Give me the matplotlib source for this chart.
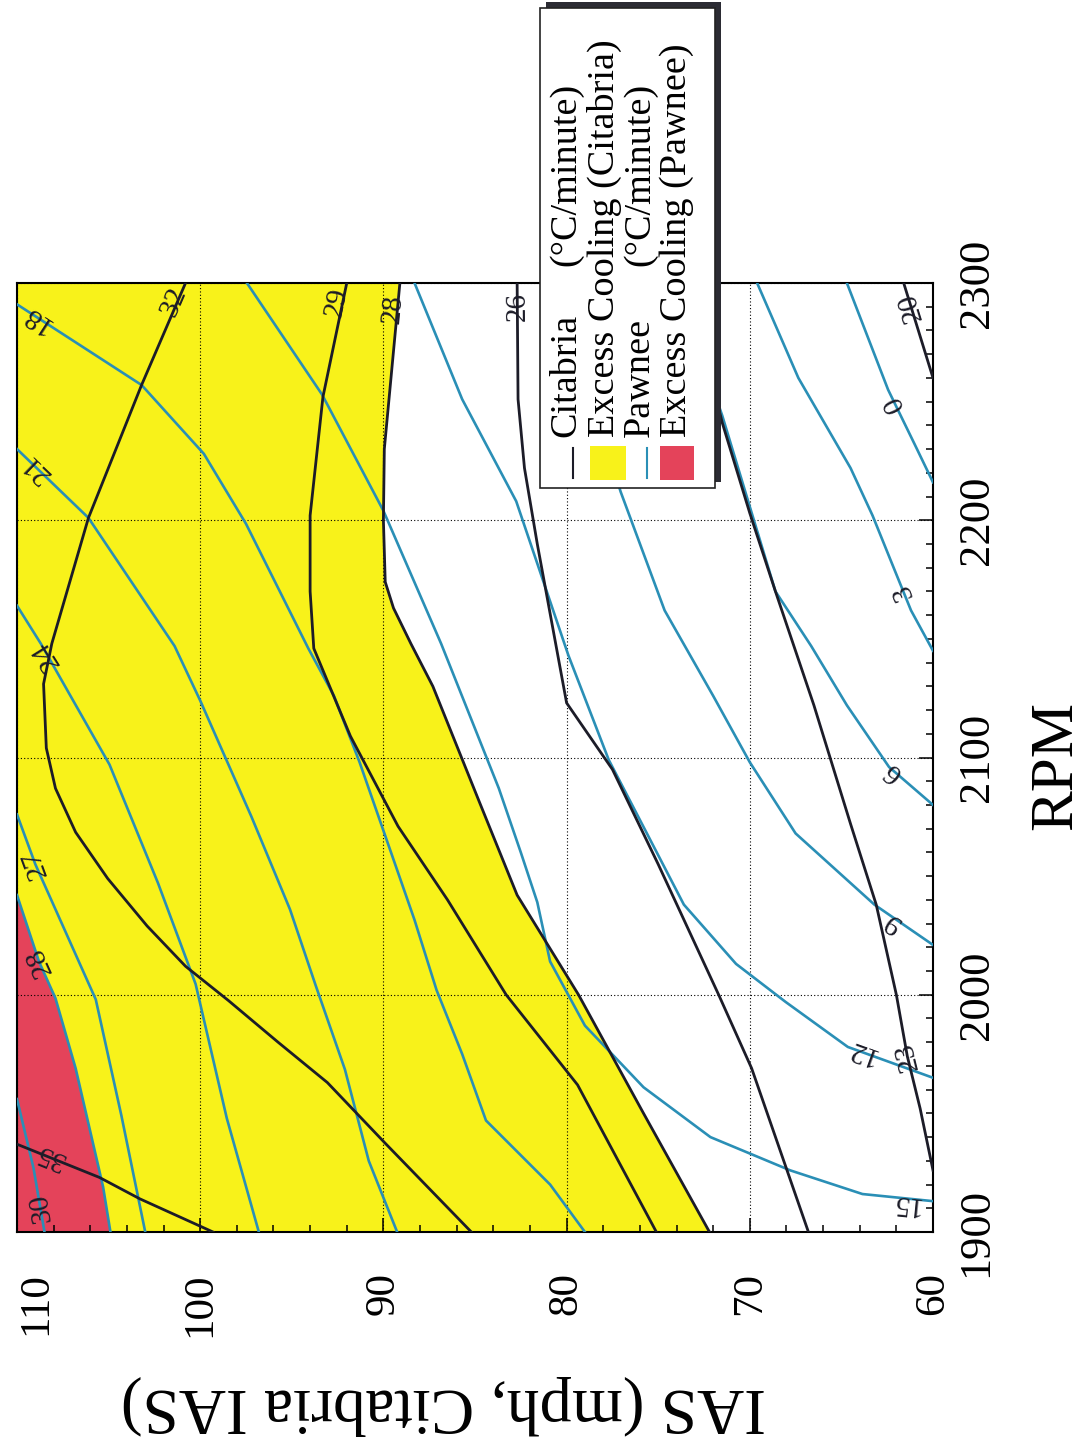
import numpy as np
import matplotlib
matplotlib.use("Agg")
import matplotlib.pyplot as plt
from matplotlib.lines import Line2D
from matplotlib.patches import Rectangle

plt.rcParams['font.family'] = ['Liberation Serif', 'DejaVu Serif']

# contour lines: IAS (mph, Citabria IAS) against RPM
# Citabria cooling rate, deg C / minute
cit20_ias = [61.6, 60.8, 60.0]
cit20_rpm = [2300, 2280, 2260]
cit23_ias = [73.4, 71.5, 70.0, 68.6, 66.5, 64.5, 63.1, 62.0, 61.4, 60.7, 60.0]
cit23_rpm = [2300, 2241, 2203, 2170, 2122, 2072, 2038, 2000, 1974, 1952, 1926]
cit26_ias = [82.7, 82.65, 82.3, 81.6, 80.0, 77.5, 75.0, 71.7, 69.9, 66.8]
cit26_rpm = [2300, 2251, 2222, 2190, 2123, 2095, 2055, 2000, 1969, 1900]
cit28_ias = [89.1, 89.95, 90.0, 89.9, 89.45, 88.5, 87.3, 84.8, 82.7, 79.35, 75.8, 72.2]
cit28_rpm = [2300, 2230, 2200, 2174, 2163, 2148, 2130, 2082, 2042, 2000, 1950, 1900]
cit29_ias = [92.0, 93.3, 94.0, 94.0, 93.8, 91.8, 89.2, 86.5, 83.3, 79.4, 75.1]
cit29_rpm = [2300, 2252, 2202, 2170, 2146, 2109, 2071, 2040, 2000, 1962, 1900]
cit32_ias = [100.8, 103.2, 106.1, 108.1, 108.55, 108.4, 107.9, 106.8, 105.05,
             102.9, 100.8, 98.45, 95.75, 93.06, 89.85, 85.2]
cit32_rpm = [2300, 2257, 2201, 2148, 2131, 2104, 2087, 2068.5, 2049,
             2029, 2012, 1997.5, 1980, 1963, 1937, 1900]
cit35_ias = [110.0, 105.5, 103.3, 99.3]
cit35_rpm = [1937, 1923, 1914, 1900]

# Pawnee cooling rate, deg C / minute
paw0_ias = [64.7, 62.45, 61.0, 60.0]
paw0_rpm = [2300, 2255, 2232, 2216]
paw3_ias = [69.6, 67.35, 64.5, 63.3, 62.2, 61.2, 60.0]
paw3_rpm = [2300, 2260, 2222, 2202, 2181, 2162, 2145]
paw6_ias = [74.0, 71.5, 68.6, 66.65, 64.7, 62.4, 60.0]
paw6_rpm = [2300, 2244, 2170, 2147, 2122, 2096, 2080]
paw9_ias = [80.6, 77.05, 74.65, 72.0, 70.0, 67.5, 63.2, 60.0]
paw9_rpm = [2300, 2212, 2162, 2126, 2098, 2068, 2038, 2021]
paw12_ias = [88.3, 85.7, 82.75, 79.9, 77.7, 73.6, 70.75, 68.05, 64.65, 60.0]
paw12_rpm = [2300, 2251, 2208, 2143, 2099, 2038, 2013, 1997, 1978, 1965]
paw15_ias = [97.45, 93.35, 90.0, 86.85, 83.7, 82.5, 81.6, 80.9, 79.0, 75.8,
             72.15, 67.8, 63.85, 60.0]
paw15_rpm = [2300, 2253, 2204, 2148, 2087, 2060, 2039, 2014, 1987, 1961,
             1940, 1926, 1916, 1913]
paw18_ias = [110, 103.2, 99.8, 97.5, 94.1, 92.7, 91.3, 89.9, 88.3, 87.1,
             85.7, 84.4, 80.9, 79.0]
paw18_rpm = [2291, 2257, 2228, 2198.5, 2146, 2126, 2098, 2067, 2031.5, 2002,
             1975, 1947, 1920, 1900]
paw21_ias = [110, 106.1, 101.4, 100.0, 97.2, 95.1, 93.7, 92.1, 90.8, 89.25]
paw21_rpm = [2230, 2201, 2147, 2124, 2075, 2036, 2004, 1968.5, 1930, 1900]
paw24_ias = [110, 108.7, 104.95, 102.3, 100.25, 98.55, 96.8]
paw24_rpm = [2164, 2148, 2097, 2047, 2004.5, 1948, 1900]
paw27_ias = [110, 109.0, 105.7, 104.3, 103.0]
paw27_rpm = [2076, 2055, 1998, 1949, 1900]
paw28_ias = [110, 108.8, 107.9, 106.8, 105.3, 104.9]
paw28_rpm = [2042, 2014, 1998.5, 1969, 1919, 1900]
paw30_ias = [110, 109.1, 108.5]
paw30_rpm = [1956, 1927, 1900]

# inline contour labels
cit_levels = ['20', '23', '26', '28', '29', '32', '35']
cit_lab_ias = [61.2, 61.4, 82.7, 89.45, 92.55, 101.45, 108.2]
cit_lab_rpm = [2290, 1974, 2290, 2289, 2292, 2292, 1932]
paw_levels = ['0', '3', '6', '9', '12', '15', '18', '21', '24', '27', '28', '30']
paw_lab_ias = [62.1, 61.6, 62.2, 62.2, 63.9, 61.5, 108.95, 108.95, 108.4, 109.0, 108.8, 108.7]
paw_lab_rpm = [2249, 2170, 2094, 2031, 1976, 1912, 2285, 2222, 2143, 2055, 2014, 1910]

ias_ticks = [110, 100, 90, 80, 70, 60]
rpm_ticks = [1900, 2000, 2100, 2200, 2300]
legend_labels = ['Citabria', 'Excess Cooling (Citabria)', 'Pawnee', 'Excess Cooling (Pawnee)']
unit_label = '(\u00b0C/minute)'

YELLOW = '#f8f21a'
RED = '#e4435a'
BLUE = '#2a8fb6'
DARK = '#1c1c28'

W, H = 1086, 1437
fig = plt.figure(figsize=(W / 100, H / 100), dpi=100)


def fx(x):
    return x / W


def fy(y):
    return 1 - y / H


ax = fig.add_axes([fx(17), fy(1232), fx(933) - fx(17), fy(283) - fy(1232)])
ax.set_xlim(110, 60)
ax.set_ylim(1900, 2300)

# excess cooling regions
ax.fill([110] + cit28_ias + [110], [2300] + cit28_rpm + [1900], color=YELLOW, lw=0, zorder=1)
ax.fill(paw28_ias + [110], paw28_rpm + [1900], color=RED, lw=0, zorder=1)

cit_lines = [(cit20_ias, cit20_rpm), (cit23_ias, cit23_rpm), (cit26_ias, cit26_rpm),
             (cit28_ias, cit28_rpm), (cit29_ias, cit29_rpm), (cit32_ias, cit32_rpm),
             (cit35_ias, cit35_rpm)]
paw_lines = [(paw0_ias, paw0_rpm), (paw3_ias, paw3_rpm), (paw6_ias, paw6_rpm),
             (paw9_ias, paw9_rpm), (paw12_ias, paw12_rpm), (paw15_ias, paw15_rpm),
             (paw18_ias, paw18_rpm), (paw21_ias, paw21_rpm), (paw24_ias, paw24_rpm),
             (paw27_ias, paw27_rpm), (paw28_ias, paw28_rpm), (paw30_ias, paw30_rpm)]

for xs, ys in paw_lines:
    ax.plot(xs, ys, color=BLUE, lw=1.9, zorder=3, solid_joinstyle='round')
for xs, ys in cit_lines:
    ax.plot(xs, ys, color=DARK, lw=2.0, zorder=3, solid_joinstyle='round')


def label_angle(xs, ys, x0, y0):
    # direction of the nearest segment, in screen space, folded into 0..180
    pts = ax.transData.transform(np.column_stack([xs, ys]))
    p0 = ax.transData.transform((x0, y0))
    mid = (pts[:-1] + pts[1:]) / 2
    i = np.argmin(np.hypot(mid[:, 0] - p0[0], mid[:, 1] - p0[1]))
    dx, dy = pts[i + 1] - pts[i]
    return np.degrees(np.arctan2(dy, dx)) % 180


for (xs, ys), lvl, lx, ly in zip(cit_lines + paw_lines, cit_levels + paw_levels,
                                 cit_lab_ias + paw_lab_ias, cit_lab_rpm + paw_lab_rpm):
    ang = label_angle(xs, ys, lx, ly)
    ax.text(lx, ly, lvl, rotation=ang, rotation_mode='anchor', ha='center', va='center',
            fontsize=21, color=DARK, zorder=4)

# axes: original chart is printed turned a quarter turn
ax.set_xticks(ias_ticks)
ax.set_xticks(np.arange(60, 111, 2), minor=True)
ax.set_yticks(rpm_ticks)
ax.set_yticks(np.arange(1900, 2301, 10), minor=True)
ax.yaxis.tick_right()
ax.tick_params(which='both', direction='in', top=False, left=False, bottom=True, right=True,
               width=1.1, colors='k')
ax.tick_params(which='major', length=10)
ax.tick_params(which='minor', length=5)
ax.tick_params(axis='x', which='major', labelsize=31, pad=29, labelrotation=90)
ax.tick_params(axis='y', which='major', labelsize=32, pad=17, labelrotation=90)
for t in ax.get_yticklabels():
    t.set_va('center')
ax.get_xticklabels()[0].set_ha('left')
ax.grid(True, which='major', color='k', ls=(0, (1, 2)), lw=0.8)
ax.set_axisbelow('line')
for s in ax.spines.values():
    s.set_linewidth(1.5)

fig.text(fx(443), fy(1405), 'IAS (mph, Citabria IAS)', rotation=180, ha='center', va='center',
         fontsize=47)
fig.text(fx(1084), fy(765), 'RPM', rotation=90, ha='right', va='center', fontsize=44)

# legend box, drawn by hand because it is turned too
fig.add_artist(Rectangle((fx(546), fy(482)), fx(721) - fx(546), fy(2) - fy(482),
                         transform=fig.transFigure, fc='#2b2b33', ec='none', zorder=5))
fig.add_artist(Rectangle((fx(540), fy(488)), fx(715) - fx(540), fy(8) - fy(488),
                         transform=fig.transFigure, fc='white', ec='#222222', lw=1.2, zorder=6))
fig.add_artist(Line2D([fx(573), fx(573)], [fy(478), fy(448)], transform=fig.transFigure,
                      color=DARK, lw=1.5, zorder=7))
fig.add_artist(Rectangle((fx(590), fy(480)), fx(626) - fx(590), fy(446) - fy(480),
                         transform=fig.transFigure, fc=YELLOW, ec='none', zorder=7))
fig.add_artist(Line2D([fx(647), fx(647)], [fy(478), fy(448)], transform=fig.transFigure,
                      color=BLUE, lw=1.5, zorder=7))
fig.add_artist(Rectangle((fx(660), fy(480)), fx(694) - fx(660), fy(446) - fy(480),
                         transform=fig.transFigure, fc=RED, ec='none', zorder=7))

col_x = [566, 604, 640, 677]
for cx, lab in zip(col_x, legend_labels):
    fig.text(fx(cx), fy(437), lab, rotation=90, ha='center', va='bottom', fontsize=27.5, zorder=8)
for cx in (col_x[0], col_x[2]):
    fig.text(fx(cx), fy(266), unit_label, rotation=90, ha='center', va='bottom', fontsize=27.5,
             zorder=8)

fig.savefig('out.png', dpi=100)
